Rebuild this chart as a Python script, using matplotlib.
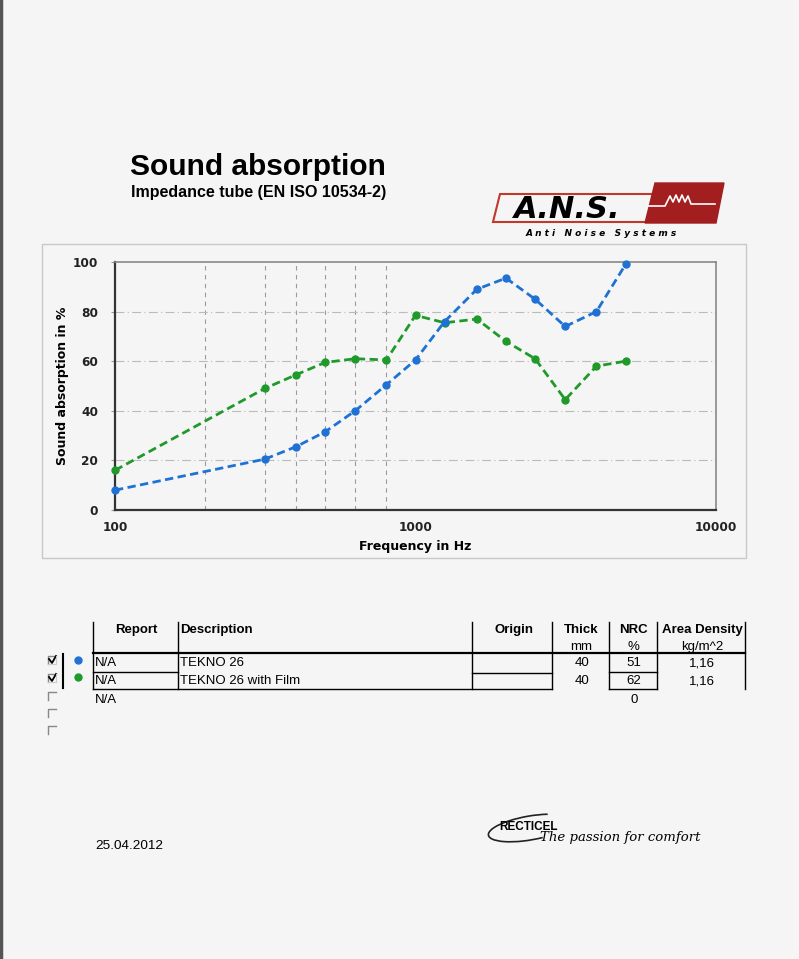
import matplotlib.pyplot as plt
from matplotlib.patches import Polygon, Rectangle, Arc
from matplotlib.lines import Line2D

# Measured data (third-octave bands)
freqs = [100, 315, 400, 500, 630, 800, 1000, 1250, 1600, 2000, 2500, 3150, 4000, 5000]
tekno = [8, 20.5, 25.5, 31.5, 40, 50.5, 60.5, 76, 89, 93.5, 85, 74, 80, 99]
tekno_film = [16, 49, 54.5, 59.5, 61, 60.5, 78.5, 75.5, 77, 68, 61, 44.5, 58, 60]
grid_freqs = [200, 315, 400, 500, 630, 800]

# Table contents
headers = ['Report', 'Description', 'Origin', 'Thick', 'NRC', 'Area Density']
units = ['', '', '', 'mm', '%', 'kg/m^2']
reports = ['N/A', 'N/A', 'N/A']
descriptions = ['TEKNO 26', 'TEKNO 26 with Film']
thickness = ['40', '40']
nrc = ['51', '62', '0']
density = ['1,16', '1,16']
checked = [True, True, False, False, False]

blue = '#1f72d4'
green = '#1f9a2a'
bg = '#f5f5f5'

W, H = 799, 959
fig = plt.figure(figsize=(W / 100, H / 100), dpi=100, facecolor=bg)


def fx(x):
    return x / W


def fy(y):
    return 1 - y / H


def ftext(x, y, s, **kw):
    kw.setdefault('family', 'Liberation Sans')
    kw.setdefault('fontsize', 9.5)
    kw.setdefault('va', 'center')
    fig.text(fx(x), fy(y), s, **kw)


def fline(xs, ys, **kw):
    kw.setdefault('color', 'black')
    kw.setdefault('lw', 1)
    fig.add_artist(Line2D([fx(x) for x in xs], [fy(y) for y in ys], **kw))


# left page edge
fline([1, 1], [0, H], color='#555555', lw=2.5)

# titles
ftext(258, 167, 'Sound absorption', fontsize=21.5, fontweight='bold', ha='center')
ftext(259, 192, 'Impedance tube (EN ISO 10534-2)', fontsize=11.5, fontweight='bold', ha='center')

# A.N.S. logo
red = '#a31f1f'
outline = [(500, 194), (660, 194), (652, 222), (493, 222)]
fig.add_artist(Polygon([(fx(x), fy(y)) for x, y in outline], closed=True,
                       fill=False, edgecolor='#c0392b', lw=1.5))
filled = [(655, 183), (724, 183), (716, 223), (645, 223)]
fig.add_artist(Polygon([(fx(x), fy(y)) for x, y in filled], closed=True,
                       facecolor=red, edgecolor=red))
zig_x = [648, 665, 670, 673, 676, 679, 682, 685, 688, 691, 697, 715]
zig_y = [206, 206, 196, 202, 195, 202, 195, 202, 196, 204, 204, 204]
fline(zig_x, zig_y, color='white', lw=1.2)
ftext(567, 209, 'A.N.S.', fontsize=22, fontweight='bold', style='italic',
      family='DejaVu Sans', ha='center')
ftext(601, 234, 'A n t i   N o i s e   S y s t e m s', fontsize=6.5, fontweight='bold',
      style='italic', family='DejaVu Sans', ha='center')

# chart area frame
fig.add_artist(Rectangle((fx(42), fy(558)), fx(746) - fx(42), fy(244) - fy(558),
                         facecolor=bg, edgecolor='#c8c8c8', lw=1, zorder=-1))

ax = fig.add_axes([fx(115), fy(510), fx(716) - fx(115), fy(262) - fy(510)])
ax.set_zorder(2)
ax.set_facecolor(bg)
ax.set_xscale('log')
ax.set_xlim(100, 10000)
ax.set_ylim(0, 100)

for gf in grid_freqs:
    ax.axvline(gf, color='#9a9a9a', lw=0.8, ls=(0, (4, 4)), zorder=1)
for gy in [20, 40, 60, 80]:
    ax.axhline(gy, color='#bbbbbb', lw=0.8, ls=(0, (8, 3, 1, 3)), zorder=1)

ax.plot(freqs, tekno_film, color=green, lw=2, ls=(0, (3, 1.6)),
        marker='o', markersize=5, zorder=3, clip_on=False)
ax.plot(freqs, tekno, color=blue, lw=2, ls=(0, (3, 1.6)),
        marker='o', markersize=5, zorder=4, clip_on=False)

ax.set_xticks([100, 1000, 10000])
ax.set_xticklabels(['100', '1000', '10000'])
ax.minorticks_off()
ax.set_yticks([0, 20, 40, 60, 80, 100])
ax.tick_params(axis='x', length=0, pad=8)
ax.tick_params(axis='y', length=3, width=0.8, color='#999999', pad=9)
for lab in ax.get_xticklabels() + ax.get_yticklabels():
    lab.set_fontsize(8.7)
    lab.set_fontweight('bold')
    lab.set_color('#222222')
for side in ['left', 'bottom']:
    ax.spines[side].set_color('#333333')
    ax.spines[side].set_linewidth(1.6)
for side in ['top', 'right']:
    ax.spines[side].set_color('#888888')
    ax.spines[side].set_linewidth(1.2)
ax.set_xlabel('Frequency in Hz', fontsize=9, fontweight='bold', labelpad=4)
ax.set_ylabel('Sound absorption in %', fontsize=9, fontweight='bold', labelpad=3)

# table
col_x = [93, 178, 472, 552, 609, 657, 745]
top, head_line, row1, row2 = 622, 653, 672, 689
for cx in col_x:
    fline([cx, cx], [top, row2], lw=1)
fline([col_x[0], col_x[-1]], [head_line, head_line], lw=1.6)
fline([col_x[0], col_x[1]], [row1, row1])
fline([col_x[2], col_x[3]], [row1 + 1, row1 + 1])
fline([col_x[4], col_x[5]], [row1, row1])
fline([col_x[0], col_x[3]], [row2, row2])
fline([col_x[4], col_x[5]], [row2, row2])

centers = [136, None, 514, 581, 633, 702]
for i, h in enumerate(headers):
    if centers[i] is None:
        ftext(180, 630, h, fontweight='bold')
    else:
        ftext(centers[i], 630, h, fontweight='bold', ha='center')
    if units[i]:
        ftext(centers[i], 647, units[i], ha='center')

row_y = [663, 681, 700]
for i, y in enumerate(row_y):
    ftext(95, y, reports[i])
    ftext(634, y, nrc[i], ha='center')
for i in range(2):
    ftext(180, row_y[i], descriptions[i])
    ftext(582, row_y[i], thickness[i], ha='center')
    ftext(702, row_y[i], density[i], ha='center')

# check boxes and legend dots
box_y = [660, 678, 696, 713, 730]
for y, c in zip(box_y, checked):
    fline([48, 48, 56], [y + 4, y - 4, y - 4], color='#888888', lw=1)
    if c:
        fline([49, 52, 56], [y - 1, y + 3, y - 4], color='black', lw=1.3)
        fline([56, 56, 48], [y - 4, y + 4, y + 4], color='#cccccc', lw=0.8)
fline([63, 63], [654, 688], lw=1.5)
fig.add_artist(Line2D([fx(78)], [fy(660)], marker='o', color=blue, markersize=5))
fig.add_artist(Line2D([fx(78)], [fy(677)], marker='o', color=green, markersize=5))

# date
ftext(95, 846, '25.04.2012', fontsize=9.7)

# Recticel logo
arc = Arc((fx(530), fy(828)), fx(84), 24 / H, angle=8, theta1=25, theta2=320,
          color='#222222', lw=1.2)
fig.add_artist(arc)
ftext(529, 827, 'RECTICEL', fontsize=8.5, fontweight='bold', ha='center')
ftext(540, 838, 'The passion for comfort', fontsize=9.5, style='italic',
      family='DejaVu Serif')

plt.savefig('out.png', dpi=100, facecolor=bg)
